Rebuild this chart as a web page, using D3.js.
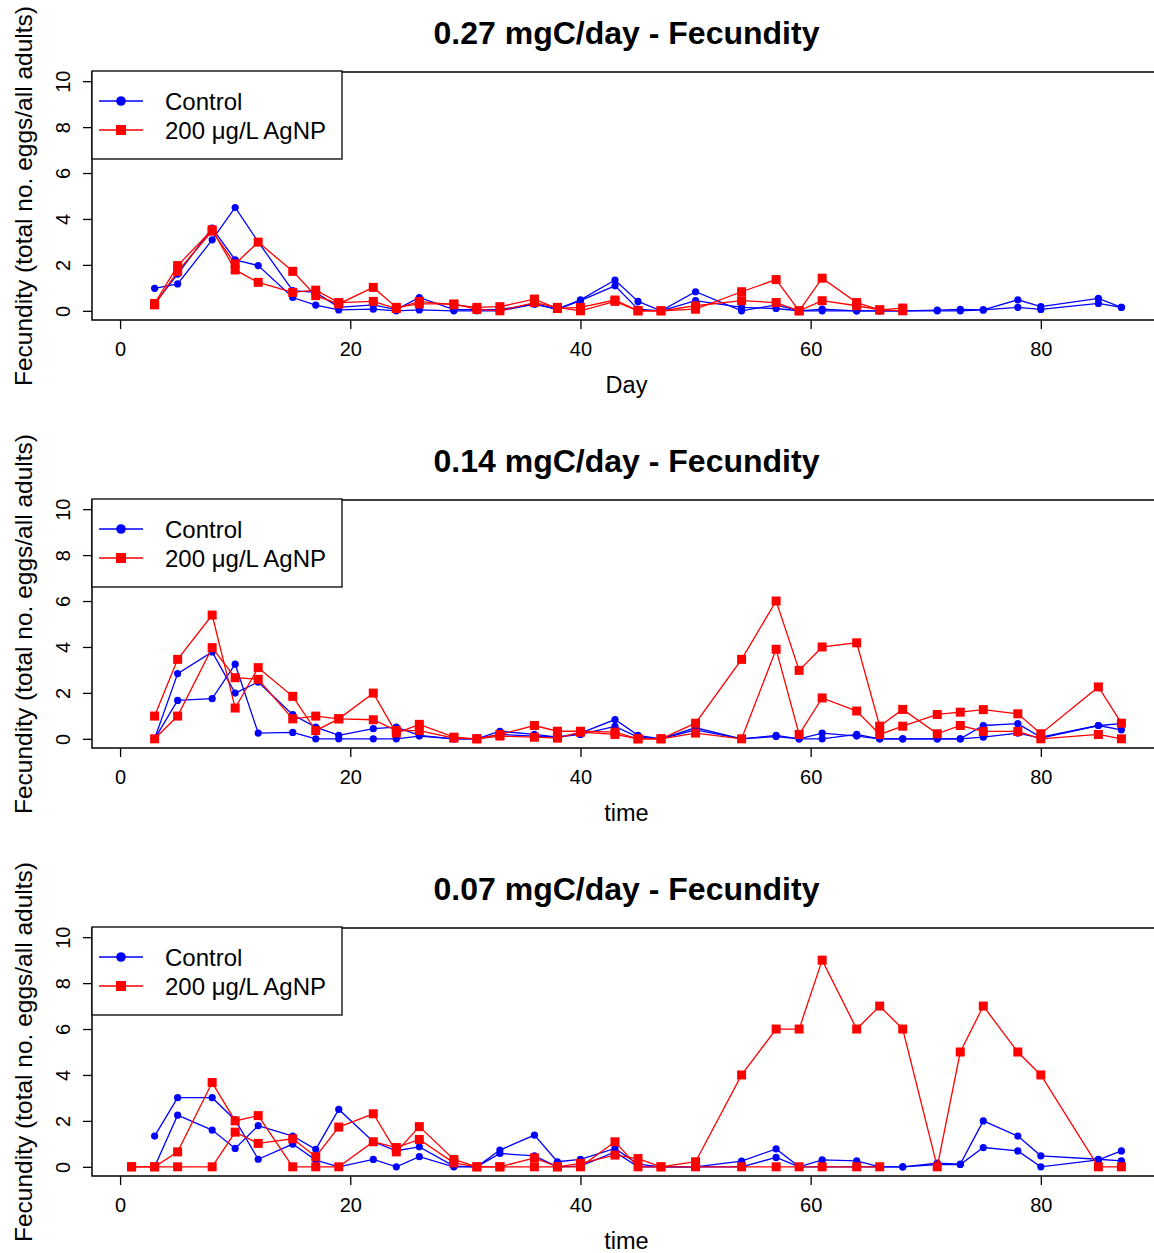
<!DOCTYPE html>
<html>
<head>
<meta charset="utf-8">
<script src="https://cdn.jsdelivr.net/npm/d3@7"></script>
<style>
  html, body { margin: 0; padding: 0; background: #fff; }
  svg { display: block; }
  text { font-family: "Liberation Sans", Arial, Helvetica, sans-serif; fill: #000; }
</style>
</head>
<body>
<svg id="chart" width="1154" height="1253"></svg>
<script>
// Sampling days (shared by all three feeding levels)
const days = [1, 3, 5, 8, 10, 12, 15, 17, 19, 22, 24, 26, 29, 31, 33, 36, 38, 40, 43, 45, 47, 50,
              54, 57, 59, 61, 64, 66, 68, 71, 73, 75, 78, 80, 85, 87];

// 0.27 mgC/day — two replicates per treatment (null = not sampled)
const ctl027a = [null, 0.98, 1.17, 3.09, 4.5, 3.0, 0.88, 0.8, 0.15, 0.26, 0.05, 0.58, 0.05, 0.05, 0.05, 0.3, 0.07, 0.48, 1.34, 0.41, 0, 0.83,
                 0, 0.26, 0, 0.07, 0, 0, 0, 0.03, 0.06, 0.04, 0.48, 0.18, 0.54, 0.15];
const ctl027b = [null, 0.3, 1.6, 3.6, 2.22, 1.97, 0.58, 0.25, 0.04, 0.07, 0, 0.04, 0, 0, 0, 0.29, 0.07, 0.44, 1.09, 0.07, 0, 0.44,
                 0.15, 0.1, 0, 0, 0, 0, 0, 0, 0, 0.04, 0.15, 0.06, 0.32, 0.15];
const ag027a  = [null, 0.32, 1.97, 3.53, 1.78, 1.24, 0.8, 0.9, 0.36, 0.41, 0.1, 0.41, 0.26, 0.15, 0.18, 0.51, 0.1, 0.15, 0.47, 0, 0, 0.07,
                 0.83, 1.36, 0, 1.42, 0.36, 0.04, 0.12, null, null, null, null, null, null, null];
const ag027b  = [null, 0.26, 1.72, 3.47, 2.04, 2.99, 1.72, 0.66, 0.3, 1.02, 0.15, 0.3, 0.3, 0.06, 0, 0.36, 0.15, 0, 0.41, 0, 0, 0.22,
                 0.44, 0.36, 0, 0.44, 0.22, 0.04, 0, null, null, null, null, null, null, null];

// 0.14 mgC/day
const ctl014a = [null, 0, 2.84, 3.78, 1.99, 2.47, 1.05, 0.51, 0.15, 0.44, 0.51, 0.15, 0, 0, 0.33, 0.19, 0.07, 0.25, 0.84, 0.15, 0, 0.48,
                 0, 0.15, 0, 0.25, 0.12, 0, 0, 0, 0, 0.58, 0.66, 0.07, 0.58, 0.39];
const ctl014b = [null, 0, 1.67, 1.75, 3.25, 0.25, 0.28, 0, 0, 0, 0, 0.12, 0, 0, 0.19, 0.12, 0.07, 0.19, 0.54, 0.07, 0, 0.39,
                 0, 0.1, 0, 0, 0.19, 0, 0, 0, 0, 0.07, 0.25, 0.03, 0.58, 0.66];
const ag014a  = [null, 0.99, 3.46, 5.39, 1.34, 3.1, 1.85, 0.36, 0.87, 1.99, 0.25, 0.63, 0.07, 0, 0.19, 0.58, 0.33, 0.33, 0.29, 0, 0, 0.68,
                 3.46, 6.0, 2.98, 4.0, 4.18, 0.55, 1.28, 0.22, 0.58, 0.32, 0.32, 0, 0.19, 0];
const ag014b  = [null, 0, 0.99, 3.97, 2.66, 2.59, 0.87, 0.99, 0.87, 0.83, 0.36, 0.36, 0.03, 0, 0.12, 0.07, 0.03, 0.29, 0.19, 0, 0, 0.25,
                 0, 3.9, 0.19, 1.78, 1.21, 0.19, 0.55, 1.06, 1.16, 1.27, 1.09, 0.22, 2.26, 0.68];

// 0.07 mgC/day
const ctl007a = [null, 1.34, 3.01, 3.01, 2.04, 0.33, 0.99, 0.29, 0, 0.32, 0, 0.44, 0, 0, 0.58, 0.48, 0, 0.03, 0.65, 0, 0, 0,
                 0, 0.41, 0, 0, 0, 0, 0, 0.1, 0.1, 0.84, 0.69, 0, 0.3, 0.69];
const ctl007b = [null, 0, 2.25, 1.6, 0.8, 1.79, 1.34, 0.76, 2.5, 1.09, 0.7, 0.87, 0.03, 0, 0.73, 1.38, 0.22, 0.32, 0.8, 0.12, 0, 0,
                 0.25, 0.78, 0, 0.3, 0.26, 0, 0, 0.16, 0.12, 2.0, 1.34, 0.48, 0.33, 0.26];
const ag007a  = [0, 0, 0.65, 3.67, 2.0, 2.23, 0, 0, 0, 1.09, 0.84, 1.19, 0.17, 0, 0, 0, 0, 0.15, 0.51, 0.36, 0, 0.22,
                 4.0, 6.0, 6.0, 9.0, 6.0, 7.0, 6.0, 0, 5.0, 7.0, 5.0, 4.0, 0, 0];
const ag007b  = [0, 0, 0, 0, 1.51, 1.02, 1.22, 0.44, 1.73, 2.31, 0.65, 1.75, 0.32, 0, 0, 0.39, 0, 0, 1.09, 0, 0, 0,
                 0, 0, 0, 0, 0, 0, null, null, null, null, null, null, null, null];

const panelTitles = ["0.27 mgC/day - Fecundity", "0.14 mgC/day - Fecundity", "0.07 mgC/day - Fecundity"];
const xLabels = ["Day", "time", "time"];
const yLabel = "Fecundity (total no. eggs/all adults)";
const legendLabels = ["Control", "200 \u03bcg/L AgNP"];
const xTicks = [0, 20, 40, 60, 80];
const yTicks = [0, 2, 4, 6, 8, 10];
const yLimits = [0, 10];

const BLUE = "#0000ff", RED = "#ff0000";

const panels = [
  { title: panelTitles[0], xlab: xLabels[0], control: [ctl027a, ctl027b], agnp: [ag027a, ag027b] },
  { title: panelTitles[1], xlab: xLabels[1], control: [ctl014a, ctl014b], agnp: [ag014a, ag014b] },
  { title: panelTitles[2], xlab: xLabels[2], control: [ctl007a, ctl007b], agnp: [ag007a, ag007b] }
];

const svg = d3.select("#chart");
const FONT = '"Liberation Sans", Arial, Helvetica, sans-serif';

// Plot region geometry (R-style 4% axis padding)
const plotLeft = 92, plotRight = 1161, plotH = 248, panelStep = 428, firstTop = 72;
const dExt = d3.extent(days), dPad = (dExt[1] - dExt[0]) * 0.04;
const yPad = (yLimits[1] - yLimits[0]) * 0.04;

panels.forEach((p, i) => {
  const top = firstTop + i * panelStep;
  const bottom = top + plotH;
  const g = svg.append("g");

  const x = d3.scaleLinear().domain([dExt[0] - dPad, dExt[1] + dPad]).range([plotLeft, plotRight]);
  const y = d3.scaleLinear().domain([yLimits[0] - yPad, yLimits[1] + yPad]).range([bottom, top]);

  // Title
  g.append("text")
    .attr("x", (plotLeft + plotRight) / 2).attr("y", top - 28)
    .attr("text-anchor", "middle")
    .style("font-size", "32px").style("font-weight", "bold")
    .text(p.title);

  // Data series: control (blue circles) then AgNP (red squares)
  const line = d3.line()
    .defined(d => d.v != null)
    .x(d => x(d.day)).y(d => y(d.v));

  const asPoints = arr => days.map((day, k) => ({ day, v: arr[k] }));

  p.control.forEach(arr => {
    const pts = asPoints(arr);
    g.append("path").attr("d", line(pts))
      .attr("fill", "none").attr("stroke", BLUE).attr("stroke-width", 1.3);
    g.selectAll(null).data(pts.filter(d => d.v != null)).enter()
      .append("circle")
      .attr("cx", d => x(d.day)).attr("cy", d => y(d.v)).attr("r", 3.6)
      .attr("fill", BLUE);
  });
  p.agnp.forEach(arr => {
    const pts = asPoints(arr);
    g.append("path").attr("d", line(pts))
      .attr("fill", "none").attr("stroke", RED).attr("stroke-width", 1.3);
    g.selectAll(null).data(pts.filter(d => d.v != null)).enter()
      .append("rect")
      .attr("x", d => x(d.day) - 4.5).attr("y", d => y(d.v) - 4.5)
      .attr("width", 9).attr("height", 9)
      .attr("fill", RED);
  });

  // Axes
  const xAxis = d3.axisBottom(x).tickValues(xTicks).tickSize(9).tickPadding(6).tickSizeOuter(0);
  const xg = g.append("g").attr("transform", `translate(0,${bottom})`).call(xAxis);
  xg.select(".domain").remove();
  xg.selectAll(".tick line").attr("stroke", "#000").attr("stroke-width", 1.3);
  xg.selectAll(".tick text").style("font-size", "20px").style("font-family", FONT)
    .attr("fill", "#000").attr("dy", null).attr("y", 36);

  const yAxis = d3.axisLeft(y).tickValues(yTicks).tickSize(9).tickSizeOuter(0);
  const yg = g.append("g").attr("transform", `translate(${plotLeft},0)`).call(yAxis);
  yg.select(".domain").remove();
  yg.selectAll(".tick line").attr("stroke", "#000").attr("stroke-width", 1.3);
  yg.selectAll(".tick text")
    .style("font-size", "20px").style("font-family", FONT).attr("fill", "#000")
    .attr("x", null).attr("dy", null).attr("y", null)
    .attr("text-anchor", "middle")
    .attr("transform", `translate(-22,0) rotate(-90)`);

  // Plot box
  g.append("rect")
    .attr("x", plotLeft).attr("y", top)
    .attr("width", plotRight - plotLeft).attr("height", plotH)
    .attr("fill", "none").attr("stroke", "#000").attr("stroke-width", 1.5);

  // Axis titles
  g.append("text")
    .attr("x", (plotLeft + plotRight) / 2).attr("y", bottom + 73)
    .attr("text-anchor", "middle").style("font-size", "23.5px")
    .text(p.xlab);
  g.append("text")
    .attr("transform", `translate(31.5,${(top + bottom) / 2}) rotate(-90)`)
    .attr("text-anchor", "middle").style("font-size", "24.5px")
    .text(yLabel);

  // Legend (top-left, inside the plot box)
  const lg = g.append("g").attr("transform", `translate(${plotLeft},${top})`);
  lg.append("rect").attr("x", 0).attr("y", -1).attr("width", 250).attr("height", 88)
    .attr("fill", "#fff").attr("stroke", "#000").attr("stroke-width", 1.3);
  const rows = [
    { label: legendLabels[0], color: BLUE, shape: "circle" },
    { label: legendLabels[1], color: RED, shape: "square" }
  ];
  rows.forEach((r, k) => {
    const cy = 29 + k * 29;
    lg.append("line").attr("x1", 7).attr("x2", 51).attr("y1", cy).attr("y2", cy)
      .attr("stroke", r.color).attr("stroke-width", 1.3);
    if (r.shape === "circle") {
      lg.append("circle").attr("cx", 29).attr("cy", cy).attr("r", 4.8).attr("fill", r.color);
    } else {
      lg.append("rect").attr("x", 24).attr("y", cy - 5).attr("width", 10).attr("height", 10).attr("fill", r.color);
    }
    lg.append("text").attr("x", 73).attr("y", cy + 8.6)
      .style("font-size", "24px").text(r.label);
  });
});
</script>
</body>
</html>
